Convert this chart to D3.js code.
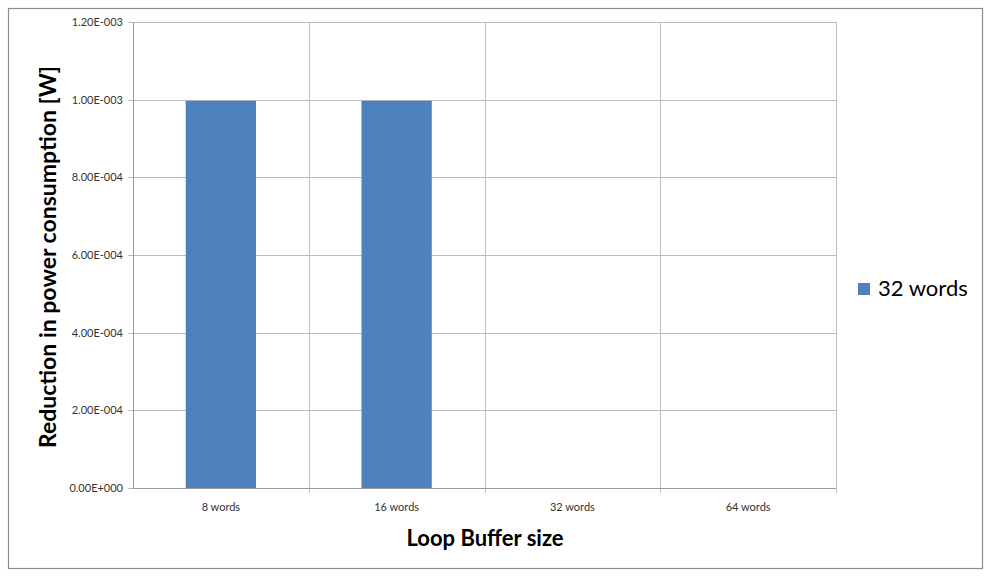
<!DOCTYPE html>
<html><head><meta charset="utf-8">
<script src="https://cdn.jsdelivr.net/npm/d3@7"></script>
<style>body{margin:0;background:#fff;}svg{display:block;}</style>
</head><body>
<svg id="chart" width="1000" height="580"></svg>
<script>
const categories = ["8 words", "16 words", "32 words", "64 words"];
const seriesName = "32 words";
const values = [0.000997, 0.000997, 0, 0];
const yTicks = [0, 0.0002, 0.0004, 0.0006, 0.0008, 0.0010, 0.0012];
const yTickLabels = ["0.00E+000", "2.00E-004", "4.00E-004", "6.00E-004", "8.00E-004", "1.00E-003", "1.20E-003"];

const svg = d3.select("#chart");
const font = "Lato, 'Open Sans', sans-serif";
const m = {left: 133, right: 836, top: 22, bottom: 488};

svg.append("rect").attr("x", 8.5).attr("y", 8.5).attr("width", 974).attr("height", 560)
  .attr("fill", "#fff").attr("stroke", "#8c8c8c").attr("stroke-width", 1.2);

const x = d3.scaleBand().domain(categories).range([m.left, m.right]).paddingInner(0).paddingOuter(0);
const y = d3.scaleLinear().domain([0, 0.0012]).range([m.bottom, m.top]);

// horizontal gridlines
svg.append("g").selectAll("line").data(yTicks).join("line")
  .attr("x1", m.left - 5).attr("x2", m.right)
  .attr("y1", d => Math.round(y(d)) + 0.5).attr("y2", d => Math.round(y(d)) + 0.5)
  .attr("stroke", "#bdbdbd").attr("stroke-width", 1);

// vertical gridlines at category boundaries
const bounds = categories.map(c => x(c)).concat([x(categories[categories.length - 1]) + x.bandwidth()]);
svg.append("g").selectAll("line").data(bounds.slice(1)).join("line")
  .attr("x1", d => Math.round(d) + 0.5).attr("x2", d => Math.round(d) + 0.5)
  .attr("y1", m.top).attr("y2", m.bottom + 5)
  .attr("stroke", "#bdbdbd").attr("stroke-width", 1);

// bars
const bw = x.bandwidth() * 0.4;
svg.append("g").selectAll("rect").data(values).join("rect")
  .attr("x", (d, i) => x(categories[i]) + x.bandwidth() / 2 - bw / 2)
  .attr("width", bw)
  .attr("y", d => y(d))
  .attr("height", d => y(0) - y(d))
  .attr("fill", "#4f81bd");

// axes
svg.append("line").attr("x1", m.left + 0.5).attr("x2", m.left + 0.5).attr("y1", m.top).attr("y2", m.bottom)
  .attr("stroke", "#9a9a9a");
svg.append("line").attr("x1", m.left).attr("x2", m.right).attr("y1", m.bottom + 0.5).attr("y2", m.bottom + 0.5)
  .attr("stroke", "#9a9a9a");

// y tick labels
svg.append("g").selectAll("text").data(yTicks).join("text")
  .attr("x", 123).attr("y", d => y(d) + 4)
  .attr("text-anchor", "end").attr("font-family", font).attr("font-size", 11).attr("fill", "#333")
  .text((d, i) => yTickLabels[i]);

// x tick labels
svg.append("g").selectAll("text").data(categories).join("text")
  .attr("x", d => x(d) + x.bandwidth() / 2).attr("y", 511)
  .attr("text-anchor", "middle").attr("font-family", font).attr("font-size", 11).attr("fill", "#333")
  .text(d => d);

// axis titles
svg.append("text").attr("x", 485).attr("y", 546).attr("text-anchor", "middle")
  .attr("font-family", font).attr("font-weight", "bold").attr("font-size", 22).attr("fill", "#000")
  .text("Loop Buffer size");
svg.append("text").attr("transform", "translate(56,257) rotate(-90)").attr("text-anchor", "middle")
  .attr("font-family", font).attr("font-weight", "bold").attr("font-size", 23).attr("fill", "#000")
  .text("Reduction in power consumption [W]");

// legend
const lg = svg.append("g").attr("transform", "translate(858,283)");
lg.append("rect").attr("width", 12).attr("height", 12).attr("fill", "#4f81bd");
lg.append("text").attr("x", 20).attr("y", 13).attr("font-family", font).attr("font-size", 22).attr("fill", "#000")
  .text(seriesName);
</script>
</body></html>
